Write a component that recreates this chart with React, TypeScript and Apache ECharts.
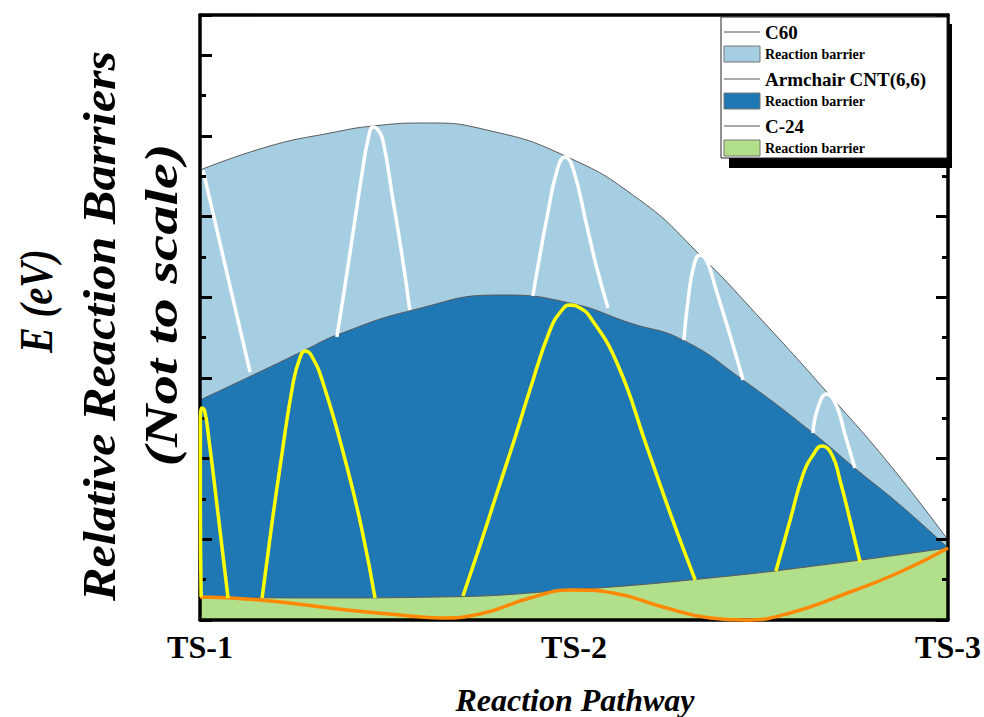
import React, { useEffect, useRef } from "react";
import * as echarts from "echarts";

// ---- tick labels ----
const xTickLabels = ["TS-1", "TS-2", "TS-3"];

// ---- energy envelopes (x: pathway coordinate 0..2, y: relative energy) ----
const c60Envelope: number[][] = [
  [0, 5.578], [0.187, 5.876], [0.348, 6.037], [0.463, 6.124], [0.607, 6.161],
  [0.767, 6.074], [0.971, 5.764], [1.176, 5.206], [1.337, 4.525], [1.497, 3.744],
  [1.676, 2.826], [1.845, 1.921], [2.0, 0.992],
];
const cntEnvelope: number[][] = [
  [0, 2.727], [0.187, 3.136], [0.281, 3.347], [0.366, 3.533], [0.57, 3.843],
  [0.802, 4.029], [0.989, 3.93], [1.15, 3.682], [1.291, 3.471], [1.452, 2.975],
  [1.639, 2.318], [1.757, 1.859], [1.872, 1.426], [2.0, 0.893],
];
const c24Envelope: number[][] = [
  [0, 0.285], [0.294, 0.273], [0.642, 0.285], [0.989, 0.372], [1.364, 0.521],
  [1.684, 0.694], [2.0, 0.893],
];

// ---- C60 barrier paths (white) ----
const c60Path1: number[][] = [[0.008, 5.578], [0.067, 4.401], [0.134, 3.074]];
const c60Path2: number[][] = [
  [0.366, 3.508], [0.388, 4.153], [0.409, 4.797], [0.436, 5.615], [0.449, 5.95],
  [0.463, 6.111], [0.476, 6.074], [0.489, 5.95], [0.516, 5.206], [0.54, 4.525], [0.561, 3.843],
];
const c60Path3: number[][] = [
  [0.89, 4.016], [0.909, 4.525], [0.928, 4.996], [0.955, 5.578], [0.976, 5.739],
  [0.997, 5.603], [1.035, 4.872], [1.061, 4.363], [1.091, 3.868],
];
const c60Path4: number[][] = [
  [1.294, 3.471], [1.305, 3.967], [1.321, 4.401], [1.337, 4.525], [1.356, 4.438],
  [1.38, 4.091], [1.417, 3.533], [1.452, 2.975],
];
const c60Path5: number[][] = [
  [1.639, 2.318], [1.652, 2.628], [1.676, 2.802], [1.701, 2.665], [1.725, 2.293], [1.751, 1.884],
];

// ---- Armchair CNT(6,6) barrier paths (yellow) ----
const cntPath1: number[][] = [
  [0.003, 0.285], [0.001, 1.488], [0.001, 2.355], [0.004, 2.628], [0.012, 2.603],
  [0.024, 2.231], [0.047, 1.364], [0.075, 0.273],
];
const cntPath2: number[][] = [
  [0.166, 0.273], [0.19, 1.116], [0.214, 1.897], [0.249, 2.938], [0.267, 3.248],
  [0.281, 3.335], [0.297, 3.285], [0.329, 2.938], [0.393, 1.897], [0.433, 1.116], [0.468, 0.273],
];
const cntPath3: number[][] = [
  [0.703, 0.298], [0.749, 0.93], [0.794, 1.574], [0.842, 2.256], [0.882, 2.851],
  [0.936, 3.595], [0.968, 3.843], [0.989, 3.905], [1.016, 3.868], [1.043, 3.756],
  [1.115, 3.186], [1.195, 2.145], [1.257, 1.326], [1.324, 0.496],
];
const cntPath4: number[][] = [
  [1.54, 0.607], [1.578, 1.24], [1.612, 1.797], [1.639, 2.045], [1.663, 2.157],
  [1.69, 2.045], [1.711, 1.735], [1.738, 1.24], [1.765, 0.719],
];

// ---- C-24 pathway (orange) ----
const c24Path: number[][] = [
  [0, 0.285], [0.16, 0.248], [0.393, 0.124], [0.535, 0.062], [0.642, 0.025],
  [0.749, 0.074], [0.882, 0.273], [0.997, 0.372], [1.104, 0.335], [1.238, 0.161],
  [1.364, 0.025], [1.457, 0.0], [1.578, 0.087], [1.738, 0.347], [1.872, 0.595], [2.0, 0.893],
];

// ---- legend entries ----
const legendItems = [
  { label: "C60", fill: "#a6cee3" },
  { label: "Armchair CNT(6,6)", fill: "#1f78b4" },
  { label: "C-24", fill: "#b2df8a" },
];
const barrierLabel = "Reaction barrier";

const yTitleLines = ["E (eV)", "Relative Reaction Barriers", "(Not to scale)"];
const xTitle = "Reaction Pathway";

const SERIF = '"Liberation Serif", "Times New Roman", serif';

export default function App() {
  const ref = useRef<HTMLDivElement>(null);

  useEffect(() => {
    if (!ref.current) return;
    const chart = echarts.init(ref.current, undefined, { renderer: "svg" });

    const areaSeries = (data: number[][], color: string) => ({
      type: "line",
      data,
      smooth: true,
      symbol: "none",
      lineStyle: { color: "#5a5a5a", width: 1 },
      areaStyle: { color, opacity: 1, origin: "start" },
      z: 2,
      silent: true,
    });
    const pathSeries = (data: number[][], color: string, width: number, z = 3) => ({
      type: "line",
      data,
      smooth: true,
      symbol: "none",
      lineStyle: { color, width },
      clip: false,
      z,
      silent: true,
    });

    const tickAxis = (position: string, interval: number, len: number, showLine: boolean) => ({
      type: "value",
      position,
      min: 0,
      max: 7.5,
      interval,
      axisLine: { show: showLine, onZero: false, lineStyle: { color: "#000", width: 3.5 } },
      axisTick: { show: true, inside: true, length: len, lineStyle: { color: "#000", width: 3 } },
      axisLabel: { show: false },
      splitLine: { show: false },
      z: 4,
    });

    const graphics: any[] = [];
    // y title
    const yTitleX = [36, 100, 162];
    const yTitleY = [301, 326, 305];
    const yTitleScale = [0.82, 1.07, 1.25];
    yTitleLines.forEach((t, i) => {
      graphics.push({
        type: "text",
        x: yTitleX[i],
        y: yTitleY[i],
        rotation: Math.PI / 2,
        scaleX: yTitleScale[i],
        z: 10,
        style: {
          text: t,
          fontSize: 47,
          fontWeight: "bold",
          fontStyle: "italic",
          fontFamily: SERIF,
          fill: "#000",
          align: "center",
          verticalAlign: "middle",
        },
      });
    });
    graphics.push({
      type: "text",
      x: 575,
      y: 700,
      z: 10,
      style: {
        text: xTitle,
        fontSize: 32,
        fontWeight: "bold",
        fontStyle: "italic",
        fontFamily: SERIF,
        fill: "#000",
        align: "center",
        verticalAlign: "middle",
      },
    });
    // legend
    graphics.push({
      type: "rect",
      z: 10,
      shape: { x: 729, y: 24, width: 223, height: 144 },
      style: { fill: "#000" },
    });
    graphics.push({
      type: "rect",
      z: 11,
      shape: { x: 721, y: 17, width: 226, height: 141 },
      style: { fill: "#fff", stroke: "#222", lineWidth: 1 },
    });
    legendItems.forEach((it, i) => {
      const y0 = 32 + i * 47;
      graphics.push({
        type: "line",
        z: 12,
        shape: { x1: 724, y1: y0, x2: 760, y2: y0 },
        style: { stroke: "#555", lineWidth: 1 },
      });
      graphics.push({
        type: "text",
        x: 765,
        y: y0,
        z: 12,
        style: {
          text: it.label,
          fontSize: 19,
          fontWeight: "bold",
          fontFamily: SERIF,
          fill: "#000",
          align: "left",
          verticalAlign: "middle",
        },
      });
      graphics.push({
        type: "rect",
        z: 12,
        shape: { x: 724, y: y0 + 14, width: 36, height: 16 },
        style: { fill: it.fill, stroke: "#777", lineWidth: 1 },
      });
      graphics.push({
        type: "text",
        x: 765,
        y: y0 + 22,
        z: 12,
        style: {
          text: barrierLabel,
          fontSize: 14,
          fontWeight: "bold",
          fontFamily: SERIF,
          fill: "#000",
          align: "left",
          verticalAlign: "middle",
        },
      });
    });

    chart.setOption({
      animation: false,
      backgroundColor: "#fff",
      grid: { left: 200, right: 36, top: 15, bottom: 97, show: false, outerBoundsMode: "none" },
      xAxis: [
        {
          type: "value",
          min: 0,
          max: 2,
          interval: 1,
          axisLine: { show: true, onZero: false, lineStyle: { color: "#000", width: 3.5 } },
          axisTick: { show: false },
          splitLine: { show: false },
          axisLabel: {
            formatter: (v: number) => xTickLabels[Math.round(v)] ?? "",
            fontSize: 32,
            fontWeight: "bold",
            fontFamily: SERIF,
            color: "#000",
            margin: 11,
            showMinLabel: true,
            showMaxLabel: true,
          },
          z: 4,
        },
        {
          type: "value",
          position: "top",
          min: 0,
          max: 2,
          axisLine: { show: true, onZero: false, lineStyle: { color: "#000", width: 3.5 } },
          axisTick: { show: false },
          axisLabel: { show: false },
          splitLine: { show: false },
          z: 4,
        },
      ],
      yAxis: [
        tickAxis("left", 1, 12, true),
        tickAxis("left", 0.5, 6, false),
        tickAxis("right", 1, 12, true),
        tickAxis("right", 0.5, 6, false),
      ],
      series: [
        areaSeries(c60Envelope, "#a6cee3"),
        areaSeries(cntEnvelope, "#1f78b4"),
        areaSeries(c24Envelope, "#b2df8a"),
        pathSeries(c60Path1, "#ffffff", 3.5),
        pathSeries(c60Path2, "#ffffff", 3.5),
        pathSeries(c60Path3, "#ffffff", 3.5),
        pathSeries(c60Path4, "#ffffff", 3.5),
        pathSeries(c60Path5, "#ffffff", 3.5),
        pathSeries(c24Path, "#ff8800", 3.5, 5),
        pathSeries(cntPath1, "#ffff00", 3.5, 5),
        pathSeries(cntPath2, "#ffff00", 3.5),
        pathSeries(cntPath3, "#ffff00", 3.5),
        pathSeries(cntPath4, "#ffff00", 3.5),
      ],
      graphic: graphics,
    });

    return () => chart.dispose();
  }, []);

  return (
    <div
      ref={ref}
      style={{ position: "absolute", left: 0, top: 0, width: 984, height: 717, background: "#fff" }}
    />
  );
}
